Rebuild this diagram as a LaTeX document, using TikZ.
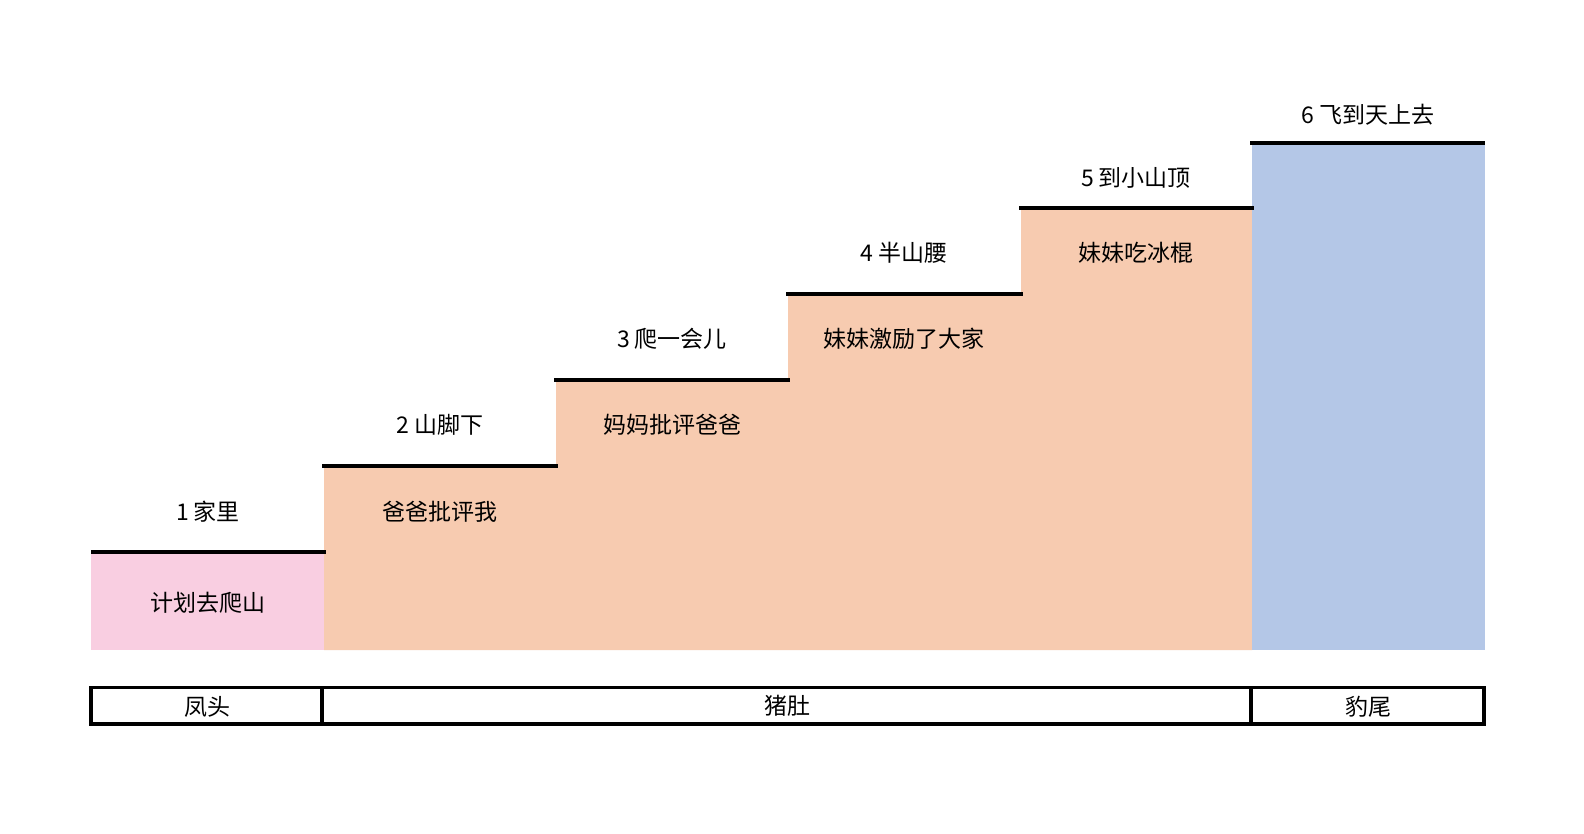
\documentclass[tikz,border=0pt]{standalone}
\usepackage{fontspec}
\setmainfont{Noto Sans CJK SC}
\definecolor{pinkfill}{HTML}{F9CEE1}
\definecolor{peachfill}{HTML}{F7CBB0}
\definecolor{bluefill}{HTML}{B4C7E7}
\begin{document}
\begin{tikzpicture}[x=1pt,y=-1pt,
  lbl/.style={font=\fontsize{23}{27}\selectfont, text=black, inner sep=0pt, anchor=center},
  stepline/.style={line width=4pt, draw=black},
  barline/.style={line width=3.6pt, draw=black}]
\useasboundingbox[fill=white] (0,0) rectangle (1584,834);
% fills
\fill[pinkfill] (91,552) rectangle (324,650);
\fill[peachfill] (324,650) -- (324,466) -- (556,466) -- (556,380) -- (788,380) -- (788,294)
  -- (1021,294) -- (1021,208) -- (1252,208) -- (1252,650) -- cycle;
\fill[bluefill] (1252,143) rectangle (1485,650);
% step lines
\draw[stepline] (91,552) -- (326,552);
\draw[stepline] (322,466) -- (558,466);
\draw[stepline] (554,380) -- (790,380);
\draw[stepline] (786,294) -- (1023,294);
\draw[stepline] (1019,208) -- (1254,208);
\draw[stepline] (1250,143) -- (1485,143);
% labels above
\node[lbl] (l1) at (208,512) {1 家里};
\node[lbl] (l2) at (440,425) {2 山脚下};
\node[lbl] (l3) at (672,339) {3 爬一会儿};
\node[lbl] (l4) at (904,253) {4 半山腰};
\node[lbl] (l5) at (1136,178) {5 到小山顶};
\node[lbl] (l6) at (1368,115) {6 飞到天上去};
% labels inside
\node[lbl] (t1) at (208,603) {计划去爬山};
\node[lbl] (t2) at (440,512) {爸爸批评我};
\node[lbl] (t3) at (672,425) {妈妈批评爸爸};
\node[lbl] (t4) at (904,339) {妹妹激励了大家};
\node[lbl] (t5) at (1136,253) {妹妹吃冰棍};
% bottom bar
\draw[barline] (91,687.5) rectangle (1484,724);
\draw[barline] (322,687.5) -- (322,724);
\draw[barline] (1251,687.5) -- (1251,724);
\node[lbl] (b1) at (207,707) {凤头};
\node[lbl] (b2) at (787,706) {猪肚};
\node[lbl] (b3) at (1368,707) {豹尾};
\end{tikzpicture}
\end{document}
